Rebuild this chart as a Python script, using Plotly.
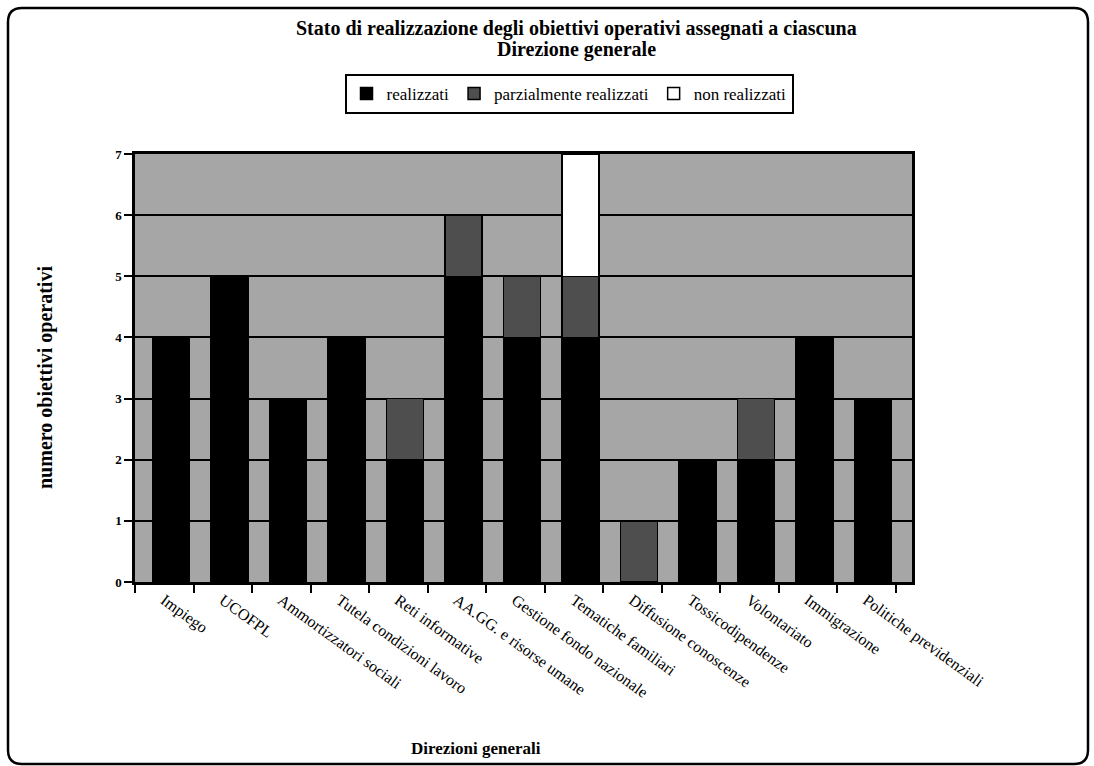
import plotly.graph_objects as go

# Direzioni generali and the number of operational objectives by status
categorie = [
    "Impiego", "UCOFPL", "Ammortizzatori sociali", "Tutela condizioni lavoro",
    "Reti informative", "AA.GG. e risorse umane", "Gestione fondo nazionale",
    "Tematiche familiari", "Diffusione conoscenze", "Tossicodipendenze",
    "Volontariato", "Immigrazione", "Politiche previdenziali",
]
realizzati = [4, 5, 3, 4, 2, 5, 4, 4, 0, 2, 2, 4, 3]
parzialmente_realizzati = [0, 0, 0, 0, 1, 1, 1, 1, 1, 0, 1, 0, 0]
non_realizzati = [0, 0, 0, 0, 0, 0, 0, 2, 0, 0, 0, 0, 0]
tick_y = [0, 1, 2, 3, 4, 5, 6, 7]

W, H = 1094, 766
L, R, T, B = 135, 912, 154, 582  # plot area in pixels

def px(x):
    return (x - L) / (R - L)

def py(y):
    return (B - y) / (B - T)

SERIF = "Liberation Serif, Times New Roman, serif"

fig = go.Figure()
series = [
    ("realizzati", realizzati, "#000000"),
    ("parzialmente realizzati", parzialmente_realizzati, "#4e4e4e"),
    ("non realizzati", non_realizzati, "#ffffff"),
]
for name, vals, col in series:
    fig.add_trace(go.Bar(
        x=categorie, y=vals, name=name,
        marker=dict(color=col, line=dict(color="#000000", width=1.5)),
        width=0.63, offset=-0.2,
    ))

# rounded frame around the whole chart
x0, x1 = px(8), px(1088)
y0, y1 = py(764), py(8)
rx, ry = 14 / (R - L), 14 / (B - T)
frame = (
    f"M {x0 + rx},{y1} L {x1 - rx},{y1} Q {x1},{y1} {x1},{y1 - ry} "
    f"L {x1},{y0 + ry} Q {x1},{y0} {x1 - rx},{y0} "
    f"L {x0 + rx},{y0} Q {x0},{y0} {x0},{y0 + ry} "
    f"L {x0},{y1 - ry} Q {x0},{y1} {x0 + rx},{y1} Z"
)

title_font = dict(family=SERIF, size=20, color="#000000")

def note(text, x, y, font, angle=0):
    return dict(text=text, xref="paper", yref="paper", x=px(x), y=py(y),
                xanchor="center", yanchor="middle", textangle=angle,
                showarrow=False, font=font)

fig.update_layout(
    width=W, height=H,
    margin=dict(l=L, r=W - R, t=T, b=H - B),
    paper_bgcolor="#ffffff",
    plot_bgcolor="#a6a6a6",
    barmode="stack",
    font=dict(family=SERIF, color="#000000"),
    legend=dict(
        orientation="h",
        traceorder="normal",
        x=px(569), xanchor="center",
        y=py(94), yanchor="middle",
        bordercolor="#000000", borderwidth=2,
        bgcolor="#ffffff",
        font=dict(family=SERIF, size=17, color="#000000"),
        itemwidth=30, tracegroupgap=0,
    ),
    xaxis=dict(
        type="category",
        range=[-0.5, 12.78],
        tickson="boundaries",
        ticks="outside", ticklen=8, tickwidth=2, tickcolor="#000000",
        tickangle=36,
        tickfont=dict(family=SERIF, size=16, color="#000000"),
        showline=True, linecolor="#000000", linewidth=2.5, mirror=True,
        showgrid=False,
    ),
    yaxis=dict(
        range=[0, 7],
        tickvals=tick_y,
        ticktext=[f"<b>{v}</b>" for v in tick_y],
        ticks="outside", ticklen=8, tickwidth=2, tickcolor="#000000",
        tickfont=dict(family=SERIF, size=13, color="#000000"),
        showline=True, linecolor="#000000", linewidth=2.5, mirror=True,
        showgrid=True, gridcolor="#000000", gridwidth=2,
        zeroline=False,
    ),
    annotations=[
        note("<b>Stato di realizzazione degli obiettivi operativi assegnati a ciascuna</b>",
             576, 28, title_font),
        note("<b>Direzione generale</b>", 576, 49, title_font),
        note("<b>numero obiettivi operativi</b>", 45, 378,
             dict(family=SERIF, size=20, color="#000000"), angle=-90),
        note("<b>Direzioni generali</b>", 476, 748,
             dict(family=SERIF, size=17, color="#000000")),
    ],
    shapes=[
        dict(type="path", path=frame, xref="paper", yref="paper",
             line=dict(color="#000000", width=2.5), layer="below"),
    ],
)

fig.write_html("out.html")
